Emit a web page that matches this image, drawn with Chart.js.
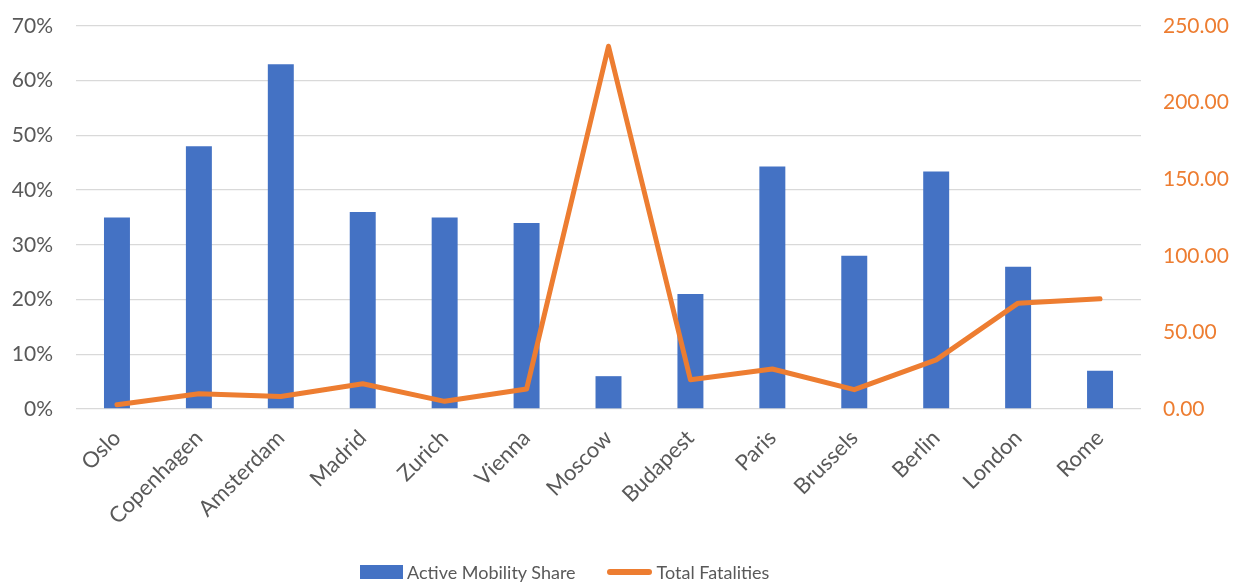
<!DOCTYPE html>
<html>
<head>
<meta charset="utf-8">
<script src="https://cdn.jsdelivr.net/npm/chart.js@4.4.1/dist/chart.umd.min.js"></script>
<style>
  html, body { margin: 0; padding: 0; background: #fff; }
  #wrap { width: 1235px; height: 583px; position: relative; }
  #legend {
    position: absolute; left: 360px; top: 560px; height: 24px;
    display: flex; align-items: center;
    font-family: Lato, "Open Sans", sans-serif; font-size: 18px; color: #595959;
  }
  .swatch-bar { width: 43px; height: 14px; background: #4472C4; margin-right: 4px; }
  .swatch-line { width: 45px; height: 6px; border-radius: 3px; background: #ED7D31; margin-left: 31px; margin-right: 5px; }
</style>
</head>
<body>
<div id="wrap">
  <canvas id="chart"></canvas>
  <div id="legend"></div>
</div>
<script>
// chart data
const cities = ["Oslo", "Copenhagen", "Amsterdam", "Madrid", "Zurich", "Vienna", "Moscow",
  "Budapest", "Paris", "Brussels", "Berlin", "London", "Rome"];
const mobilityShare = [35, 48, 63, 36, 35, 34, 6, 21, 44.3, 28, 43.4, 26, 7];
const fatalities = [2.8, 10.0, 8.2, 16.5, 5.0, 13.0, 236.8, 19.1, 26.1, 12.6, 32.1, 69.1, 71.9];
const shareTicks = [0, 10, 20, 30, 40, 50, 60, 70];
const fatalityTicks = [0, 50, 100, 150, 200, 250];

const blue = "#4472C4";
const orange = "#ED7D31";
const grey = "#595959";
const fontFamily = "Lato, 'Open Sans', sans-serif";

// y axes: fixed width, no extra top/bottom padding from tick labels
function fixAxis(width) {
  return (scale) => {
    scale.width = width;
    scale.paddingTop = 0;
    scale.paddingBottom = 0;
  };
}

const ctx = document.getElementById("chart").getContext("2d");
const chart = new Chart(ctx, {
  data: {
    labels: cities,
    datasets: [{
      type: "bar",
      label: "Active Mobility Share",
      data: mobilityShare,
      backgroundColor: blue,
      yAxisID: "y",
      order: 1,
      categoryPercentage: 1,
      barPercentage: 0.317
    }, {
      type: "line",
      label: "Total Fatalities",
      data: fatalities,
      borderColor: orange,
      backgroundColor: orange,
      borderWidth: 5,
      borderCapStyle: "round",
      borderJoinStyle: "round",
      pointRadius: 0,
      tension: 0,
      yAxisID: "y1",
      order: 0
    }]
  },
  options: {
    responsive: true,
    maintainAspectRatio: false,
    animation: false,
    layout: { padding: { top: 26, bottom: 0 } },
    plugins: {
      tooltip: { enabled: false },
      legend: { display: false }
    },
    scales: {
      x: {
        grid: { display: false, drawTicks: false },
        border: { display: false },
        ticks: {
          color: grey,
          font: { family: fontFamily, size: 22 },
          maxRotation: 45,
          minRotation: 45,
          padding: 16
        },
        afterFit: (scale) => { scale.height = 174; }
      },
      y: {
        position: "left",
        min: 0,
        max: 70,
        grid: { color: "#D9D9D9", lineWidth: 1.3, drawTicks: false },
        border: { display: false },
        afterBuildTicks: (scale) => { scale.ticks = shareTicks.map(v => ({ value: v })); },
        ticks: {
          color: grey,
          font: { family: fontFamily, size: 21 },
          padding: 23,
          callback: (v) => v + "%"
        },
        afterFit: fixAxis(76)
      },
      y1: {
        position: "right",
        min: 0,
        max: 250,
        grid: { display: false, drawTicks: false },
        border: { display: false },
        afterBuildTicks: (scale) => { scale.ticks = fatalityTicks.map(v => ({ value: v })); },
        ticks: {
          color: orange,
          font: { family: fontFamily, size: 21 },
          padding: 22,
          callback: (v) => v.toFixed(2)
        },
        afterFit: fixAxis(94)
      }
    }
  }
});

// html legend built from the datasets
const legend = document.getElementById("legend");
chart.data.datasets.forEach((ds, i) => {
  const swatch = document.createElement("span");
  swatch.className = i === 0 ? "swatch-bar" : "swatch-line";
  const text = document.createElement("span");
  text.textContent = ds.label;
  legend.appendChild(swatch);
  legend.appendChild(text);
});
</script>
</body>
</html>
